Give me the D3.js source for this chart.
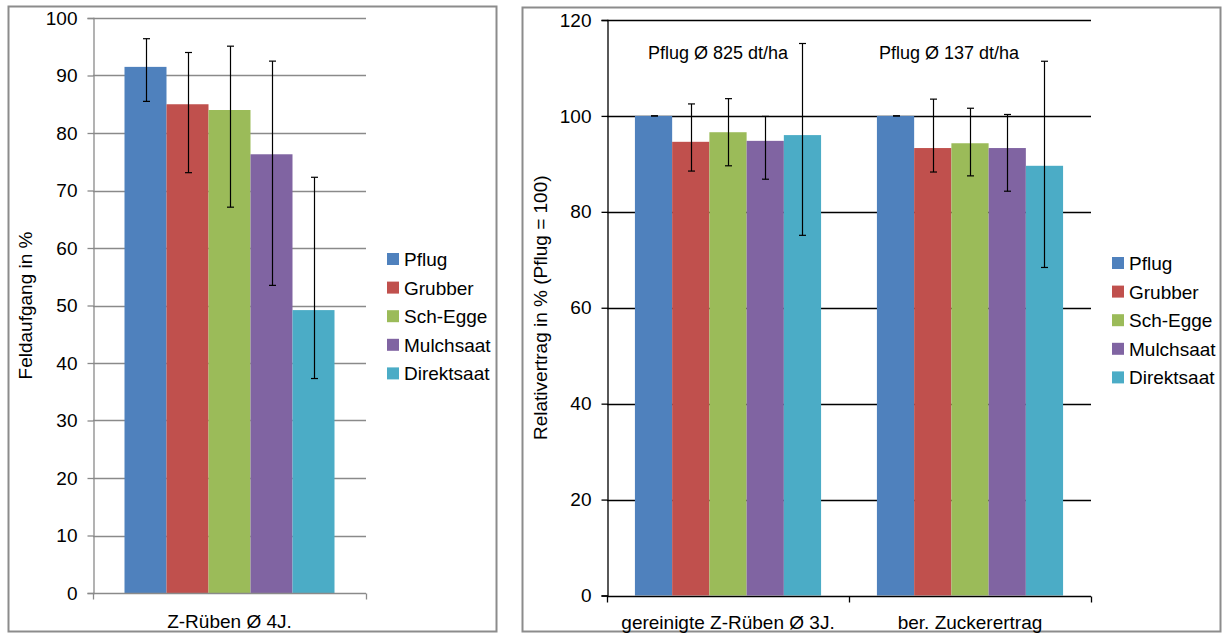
<!DOCTYPE html>
<html>
<head>
<meta charset="utf-8">
<script src="https://cdn.jsdelivr.net/npm/d3@7"></script>
<style>
  html, body { margin: 0; padding: 0; background: #fff; }
  svg { display: block; font-family: "Liberation Sans", Arial, sans-serif; }
</style>
</head>
<body>
<svg id="chart" width="1222" height="635"></svg>
<script>
// ---------- DATA ----------
const series = ["Pflug", "Grubber", "Sch-Egge", "Mulchsaat", "Direktsaat"];
const colors = ["#4F81BD", "#C0504D", "#9BBB59", "#8064A2", "#4BACC6"];

// Left chart: Feldaufgang
const leftCategories = ["Z-Rüben Ø 4J."];
const leftValues = [91.5, 85.0, 84.0, 76.3, 49.2];
const leftErrHigh = [96.4, 94.0, 95.1, 92.5, 72.3];
const leftErrLow  = [85.5, 73.1, 67.1, 53.5, 37.3];
const leftTicks = [0, 10, 20, 30, 40, 50, 60, 70, 80, 90, 100];

// Right chart: Relativertrag
const rightCategories = ["gereinigte Z-Rüben Ø 3J.", "ber. Zuckerertrag"];
const rightValues = [
  [100, 94.6, 96.6, 94.8, 96.0],
  [100, 93.3, 94.3, 93.3, 89.6]
];
const rightErrHigh = [
  [100, 102.5, 103.6, 99.9, 115.1],
  [100, 103.5, 101.6, 100.3, 111.4]
];
const rightErrLow = [
  [100, 88.5, 89.6, 86.8, 75.1],
  [100, 88.3, 87.5, 84.3, 68.4]
];
const rightAnnotations = ["Pflug Ø 825 dt/ha", "Pflug Ø 137 dt/ha"];
const rightTicks = [0, 20, 40, 60, 80, 100, 120];

// ---------- DRAW ----------
const svg = d3.select("#chart");
const FONT = 19;
const ANN_FONT = 18;
const annShift = [-10, -21];

// chart frames
svg.append("rect").attr("x", 8.5).attr("y", 6.5).attr("width", 488).attr("height", 625)
  .attr("fill", "#fff").attr("stroke", "#8c8c8c").attr("stroke-width", 2);
svg.append("rect").attr("x", 522.5).attr("y", 7.5).attr("width", 698).attr("height", 624)
  .attr("fill", "#fff").attr("stroke", "#8c8c8c").attr("stroke-width", 2);

function drawChart(opt) {
  const g = svg.append("g");
  const y = d3.scaleLinear().domain(opt.yDomain).range([opt.y0, opt.y1]);
  const x = d3.scaleBand().domain(opt.categories).range([opt.x0, opt.x1]).padding(0);
  const xs = d3.scaleBand().domain(series).range([0, x.bandwidth()])
    .paddingInner(0).paddingOuter(0.75);

  // gridlines
  g.append("g").selectAll("line").data(opt.ticks.filter(t => t !== opt.yDomain[0])).join("line")
    .attr("x1", opt.x0).attr("x2", opt.x1)
    .attr("y1", d => Math.round(y(d)) + 0.5).attr("y2", d => Math.round(y(d)) + 0.5)
    .attr("stroke", opt.gridColor).attr("stroke-width", 1.3);

  // y axis
  const yAxis = d3.axisLeft(y).tickValues(opt.ticks).tickSize(6).tickPadding(10);
  const ya = g.append("g").attr("transform", `translate(${Math.round(opt.x0) + 0.5},0)`).call(yAxis);
  ya.select(".domain").attr("stroke", opt.axisColor).attr("stroke-width", 1.3);
  ya.selectAll(".tick line").attr("stroke", opt.axisColor).attr("stroke-width", 1.3);
  ya.selectAll(".tick text").attr("font-size", FONT).attr("fill", "#000")
    .attr("font-family", "Liberation Sans, Arial, sans-serif");

  // bars
  opt.categories.forEach((cat, ci) => {
    const vals = opt.values[ci];
    const bg = g.append("g").attr("transform", `translate(${x(cat)},0)`);
    bg.selectAll("rect").data(series).join("rect")
      .attr("x", s => xs(s)).attr("width", xs.bandwidth())
      .attr("y", (s, i) => y(vals[i])).attr("height", (s, i) => y(0) - y(vals[i]))
      .attr("fill", (s, i) => colors[i]);
    // error bars
    const hi = opt.errHigh[ci], lo = opt.errLow[ci];
    const eb = bg.append("g").attr("stroke", "#000").attr("stroke-width", 1.2);
    series.forEach((s, i) => {
      const cx = Math.round(xs(s) + xs.bandwidth() / 2) + 0.5;
      eb.append("line").attr("x1", cx).attr("x2", cx).attr("y1", y(hi[i])).attr("y2", y(lo[i]));
      eb.append("line").attr("x1", cx - 3.5).attr("x2", cx + 3.5).attr("y1", y(hi[i])).attr("y2", y(hi[i]));
      eb.append("line").attr("x1", cx - 3.5).attr("x2", cx + 3.5).attr("y1", y(lo[i])).attr("y2", y(lo[i]));
    });
  });

  // x axis
  const y0 = Math.round(y(opt.yDomain[0])) + 0.5;
  const xa = g.append("g");
  xa.append("line").attr("x1", opt.x0).attr("x2", opt.x1).attr("y1", y0).attr("y2", y0)
    .attr("stroke", opt.axisColor).attr("stroke-width", 1.3);
  const bounds = [opt.x0].concat(opt.categories.map(c => x(c) + x.bandwidth()));
  xa.selectAll("line.t").data(bounds).join("line").attr("class", "t")
    .attr("x1", d => Math.round(d) + 0.5).attr("x2", d => Math.round(d) + 0.5)
    .attr("y1", y0).attr("y2", y0 + 6)
    .attr("stroke", opt.axisColor).attr("stroke-width", 1.3);
  xa.selectAll("text").data(opt.categories).join("text")
    .attr("x", c => x(c) + x.bandwidth() / 2).attr("y", opt.catLabelY)
    .attr("text-anchor", "middle").attr("font-size", FONT).attr("fill", "#000").text(c => c);

  // y label
  g.append("text")
    .attr("transform", `translate(${opt.yLabelX},${(opt.y0 + opt.y1) / 2}) rotate(-90)`)
    .attr("text-anchor", "middle").attr("font-size", FONT).attr("fill", "#000").text(opt.yLabel);

  // annotations
  if (opt.annotations) {
    g.selectAll("text.ann").data(opt.annotations).join("text").attr("class", "ann")
      .attr("x", (d, i) => x(opt.categories[i]) + x.bandwidth() / 2 + annShift[i])
      .attr("y", opt.annY).attr("text-anchor", "middle").attr("font-size", ANN_FONT)
      .attr("fill", "#000").text(d => d);
  }

  // legend
  const lg = g.append("g").attr("transform", `translate(${opt.legendX},${opt.legendY})`);
  series.forEach((s, i) => {
    const row = lg.append("g").attr("transform", `translate(0,${i * 28.6})`);
    row.append("rect").attr("x", 0).attr("y", -6).attr("width", 12).attr("height", 12).attr("fill", colors[i]);
    row.append("text").attr("x", 17).attr("y", 7).attr("font-size", FONT).attr("fill", "#000").text(s);
  });
}

drawChart({
  categories: leftCategories, values: [leftValues], errHigh: [leftErrHigh], errLow: [leftErrLow],
  yDomain: [0, 100], ticks: leftTicks, y0: 593, y1: 18, x0: 93, x1: 366,
  gridColor: "#8a8a8a", axisColor: "#8a8a8a",
  catLabelY: 628, yLabel: "Feldaufgang in %", yLabelX: 32,
  legendX: 387, legendY: 259
});

drawChart({
  categories: rightCategories, values: rightValues, errHigh: rightErrHigh, errLow: rightErrLow,
  yDomain: [0, 120], ticks: rightTicks, y0: 595.5, y1: 20, x0: 607, x1: 1091,
  gridColor: "#000", axisColor: "#000",
  catLabelY: 629, yLabel: "Relativertrag in % (Pflug = 100)", yLabelX: 547,
  annotations: rightAnnotations, annY: 59,
  legendX: 1112, legendY: 263
});
</script>
</body>
</html>
